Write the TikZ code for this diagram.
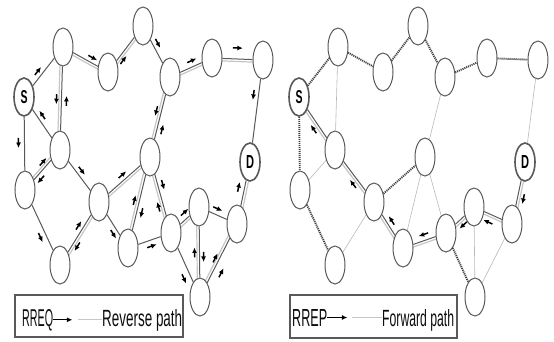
\documentclass[tikz,border=0pt]{standalone}
\usepackage{fontspec}
\usepackage{graphicx}
\setmainfont{Liberation Sans}
\usetikzlibrary{shapes.geometric,calc,arrows.meta,backgrounds}

\tikzset{
  peer/.style={ellipse, draw=gray!70!black, line width=1pt, fill=white,
    minimum width=20pt, minimum height=38pt, inner sep=0pt},
  term/.style={peer, line width=1.6pt},
  link/.style={draw=gray!70!black, line width=1pt},
  halo/.style={draw=gray!45, line width=1.2pt},
  hop/.style={draw=gray!50!black, line width=1.9pt, dash pattern=on 1.1pt off 0.9pt},
  spare/.style={draw=gray!55, line width=0.6pt},
  pkt/.style={-{Latex[length=5.5pt,width=5pt]}, line width=1.5pt, black},
  legend/.style={anchor=base west, inner sep=0pt, text=gray!10!black}
}

% short message arrow beside an edge: from, to, start, side
\newcommand{\sendarr}[4]{%
  \coordinate (p1) at ($(#1)!#4!90:(#2)$);
  \coordinate (p2) at ($(#2)!#4!-90:(#1)$);
  \draw[pkt] ($(p1)!#3!(p2)$) -- ($(p1)!#3!(p2)!10pt!(p2)$);}
% light path line next to an edge: from, to, side
\newcommand{\pathline}[3]{%
  \draw[halo] ($(#1)!#3!90:(#2)$) -- ($(#2)!#3!-90:(#1)$);}

\begin{document}
\begin{tikzpicture}[x=1pt, y=-1pt]
  \useasboundingbox (0,0) rectangle (554,341);

  % Nodes of both panels
  \foreach \side/\dx in {L/0, R/275} {
    \foreach \n/\x/\y in {a/63/47, b/108/72, c/143/26, e/170/77, f/212/58, g/263/60,
        h/60/150, i/150/157, j/25/190, k/99/202, l/60/265, m/128/248,
        n/171/233, o/199/207, p/237/224, q/200/297}
      \node[peer] (\side-\n) at (\x+\dx,\y) {};
    \node[term] (\side-s) at (24+\dx,97) {\resizebox{7pt}{13pt}{\bfseries S}};
    \node[term] (\side-d) at (250+\dx,162) {\resizebox{8pt}{13pt}{\bfseries D}};
  }

  % Left panel: RREQ flooding
  \foreach \u/\v in {s/a, a/b, b/c, c/e, e/f, f/g, g/d, a/h, s/h, s/j, h/j, h/k, k/i,
      e/i, j/l, l/k, k/m, i/m, i/n, m/n, n/o, o/p, p/d, n/q, o/q, p/q}
    \draw[link] (L-\u) -- (L-\v);
  \begin{pgfonlayer}{background}
    \foreach \u/\v in {a/b, b/c, e/f, f/g, a/h, e/i, k/i, l/k, i/m, i/n, n/o, p/d, o/q, p/q, h/j}
      {\pathline{L-\u}{L-\v}{-2.5pt}}
    \foreach \u/\v in {s/h, h/k, k/m, m/n, n/o, o/p, p/d}
      {\pathline{R-\u}{R-\v}{-2.5pt}}
  \end{pgfonlayer}
  \foreach \u/\v/\t/\o in {L-s/L-a/0.38/5pt, L-a/L-b/0.51/5pt, L-b/L-c/0.24/-5pt,
      L-c/L-e/0.30/5pt, L-e/L-f/0.47/6pt, L-f/L-g/0.40/11pt, L-g/L-d/0.30/-5pt,
      L-a/L-h/0.46/-5pt, L-h/L-a/0.43/-5pt, L-h/L-s/0.53/-5pt, L-s/L-j/0.44/-6pt,
      L-j/L-h/0.53/5pt, L-h/L-j/0.56/5pt, L-h/L-k/0.38/5pt, L-k/L-i/0.45/5pt,
      L-e/L-i/0.38/-5pt, L-i/L-e/0.30/-5pt, L-j/L-l/0.54/-6pt, L-l/L-k/0.52/5pt,
      L-k/L-l/0.60/5pt, L-k/L-m/0.55/-5pt, L-m/L-n/0.40/-6pt, L-i/L-m/0.55/5pt,
      L-m/L-i/0.46/5pt, L-n/L-i/0.30/5pt, L-i/L-n/0.32/5pt, L-n/L-o/0.50/6pt,
      L-o/L-p/0.31/6pt, L-p/L-d/0.50/6pt, L-n/L-q/0.60/-7pt, L-q/L-o/0.44/5pt,
      L-o/L-q/0.50/4pt, L-q/L-p/0.45/4pt, L-q/L-p/0.32/-8pt}
    {\sendarr{\u}{\v}{\t}{\o}}

  % Right panel: RREP back to the source
  \foreach \u/\v in {s/a, a/b, b/c, c/e, e/f, f/g, s/j, k/i, j/l, n/q}
    \draw[hop] (R-\u) -- (R-\v);
  \foreach \u/\v in {g/d, a/h, h/j, l/k, i/m, i/n, e/i, o/q, p/q}
    \draw[spare] (R-\u) -- (R-\v);
  \foreach \u/\v in {s/h, h/k, k/m, m/n, n/o, o/p, p/d}
    \draw[link] (R-\u) -- (R-\v);
  \foreach \u/\v/\t/\o in {R-h/R-s/0.38/6pt, R-k/R-h/0.34/6pt, R-m/R-k/0.45/-5pt,
      R-n/R-m/0.37/-6pt, R-o/R-n/0.40/6pt, R-p/R-o/0.43/8pt, R-d/R-p/0.50/6pt}
    {\sendarr{\u}{\v}{\t}{\o}}

  % Legends
  \draw[draw=gray!70!black, line width=1.5pt] (15,295) rectangle (183,337);
  \node[legend] (reqtxt) at (22,326) {\resizebox{31pt}{17pt}{RREQ}};
  \node[legend] (revtxt) at (102,326) {\resizebox{80pt}{17pt}{Reverse path}};
  \draw[pkt, line width=1.2pt] (reqtxt.east) -- ++(19pt,0);
  \draw[halo] (revtxt.west |- reqtxt.east) -- ++(-24pt,0);

  \draw[draw=gray!70!black, line width=1.5pt] (290,295) rectangle (457,338);
  \node[legend] (reptxt) at (292,326) {\resizebox{35pt}{17pt}{RREP}};
  \node[legend] (fwdtxt) at (382,326) {\resizebox{72pt}{17pt}{Forward path}};
  \draw[pkt, line width=1.2pt] (reptxt.east) -- ++(20pt,0);
  \draw[halo] (fwdtxt.west |- reptxt.east) -- ++(-30pt,0);
\end{tikzpicture}
\end{document}
